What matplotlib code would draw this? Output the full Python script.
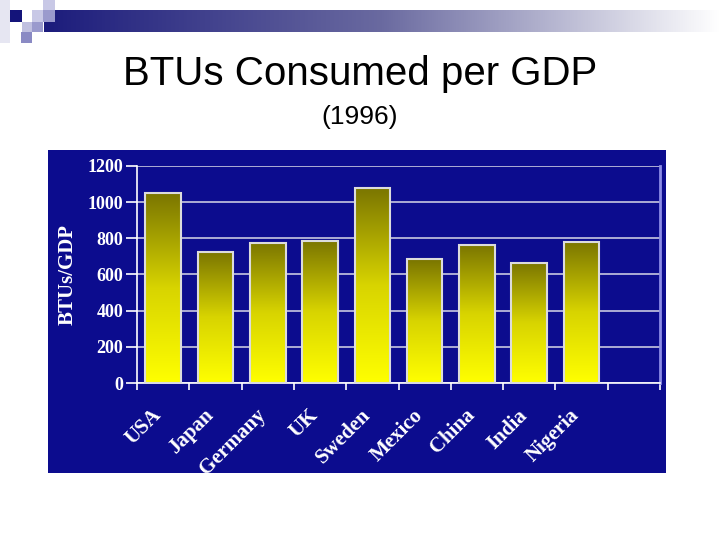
import numpy as np
import matplotlib
matplotlib.use("Agg")
from matplotlib import pyplot as plt
from matplotlib.colors import LinearSegmentedColormap
from matplotlib.patches import Rectangle
from matplotlib.transforms import ScaledTranslation

### chart data
countries = ["USA", "Japan", "Germany", "UK", "Sweden", "Mexico", "China", "India", "Nigeria"]
btus = [1050, 727, 776, 787, 1080, 683, 765, 666, 782]
yticks = [0, 200, 400, 600, 800, 1000, 1200]

panel_blue = "#0c0c8e"
serif = ["Liberation Serif", "DejaVu Serif"]

fig = plt.figure(figsize=(7.2, 5.4), dpi=100)
fig.patch.set_facecolor("white")

### slide decoration at top left (pixel coords)
deco = fig.add_axes([0, 0, 1, 1], zorder=0)
deco.axis("off")
grad_bar = np.linspace(0, 1, 256).reshape(1, -1)
deco.imshow(grad_bar, extent=[44, 720, 32, 10], aspect="auto",
            cmap=LinearSegmentedColormap.from_list("hdr", ["#1c1c7c", "#6a6aa0", "#ffffff"]))
deco.add_patch(Rectangle((0, 0), 10, 43, color="#e6e6f2", lw=0))
deco.add_patch(Rectangle((10, 10), 12, 12, color="#14147a", lw=0))
deco.add_patch(Rectangle((32, 10), 11, 12, color="#c8c8e6", lw=0))
deco.add_patch(Rectangle((43, 0), 12, 10, color="#c8c8e6", lw=0))
deco.add_patch(Rectangle((43, 10), 12, 12, color="#9a9acd", lw=0))
deco.add_patch(Rectangle((22, 22), 21, 10, color="#c0c0e0", lw=0))
deco.add_patch(Rectangle((32, 22), 11, 10, color="#9a9acd", lw=0))
deco.add_patch(Rectangle((21, 32), 11, 11, color="#8a8ac4", lw=0))
deco.set_xlim(0, 720)
deco.set_ylim(540, 0)

fig.text(0.5, 0.863, "BTUs Consumed per GDP", ha="center", va="center",
         fontsize=29, family="Liberation Sans", color="black")
fig.text(0.5, 0.783, "(1996)", ha="center", va="center",
         fontsize=19, family="Liberation Sans", color="black")

### blue chart panel
panel = fig.add_axes([48 / 720, 67 / 540, 618 / 720, 323 / 540], zorder=1)
panel.set_facecolor(panel_blue)
panel.set_xticks([])
panel.set_yticks([])
for s in panel.spines.values():
    s.set_visible(False)

### plot area
ax = fig.add_axes([137 / 720, 157 / 540, 523 / 720, 217 / 540], zorder=2)
ax.set_facecolor(panel_blue)

x = np.arange(len(countries))
bars = ax.bar(x, btus, width=0.68, color="none", edgecolor="#dcdcdc",
              linewidth=1.5, zorder=3)

### olive to yellow gradient inside each bar
bar_cmap = LinearSegmentedColormap.from_list("bar", ["#ffff00", "#d8d400", "#7a7500"])
grad = np.linspace(0, 1, 256).reshape(-1, 1)
for b in bars:
    x0, w, h = b.get_x(), b.get_width(), b.get_height()
    im = ax.imshow(grad, extent=[x0, x0 + w, 0, h], origin="lower",
                   aspect="auto", cmap=bar_cmap, zorder=2.5)
    im.set_clip_path(b)

ax.set_xlim(-0.5, 9.5)
ax.set_ylim(0, 1200)
ax.set_yticks(yticks)
ax.set_yticklabels([str(v) for v in yticks], fontsize=13, fontweight="bold",
                   family=serif, color="white")
ax.yaxis.grid(True, color="#d8d8e8", linewidth=1.1, zorder=1)
ax.set_axisbelow(True)
ax.tick_params(axis="y", colors="white", length=8, width=1.2, pad=2)

### tick marks at slot edges, labels at slot centres
ax.set_xticks(np.arange(-0.5, 10.0, 1.0))
ax.set_xticklabels([])
ax.tick_params(axis="x", which="major", colors="white", length=5, width=1.2)
ax.set_xticks(x, minor=True)
ax.set_xticklabels(countries, minor=True, rotation=45, ha="right",
                   rotation_mode="anchor", fontsize=15, fontweight="bold",
                   family=serif, color="white")
ax.tick_params(axis="x", which="minor", length=0, pad=16)
shift = ScaledTranslation(-12 / 100, 0, fig.dpi_scale_trans)
for lab in ax.get_xticklabels(minor=True):
    lab.set_transform(lab.get_transform() + shift)

ax.set_ylabel("BTUs/GDP", fontsize=15, fontweight="bold", family=serif,
              color="white", labelpad=7)

ax.spines["top"].set_visible(False)
ax.spines["left"].set_color("white")
ax.spines["bottom"].set_color("white")
ax.spines["right"].set_color("#8c8ce6")
ax.spines["left"].set_linewidth(1.2)
ax.spines["bottom"].set_linewidth(1.2)
ax.spines["right"].set_linewidth(2)

plt.savefig("out.png", dpi=100)
